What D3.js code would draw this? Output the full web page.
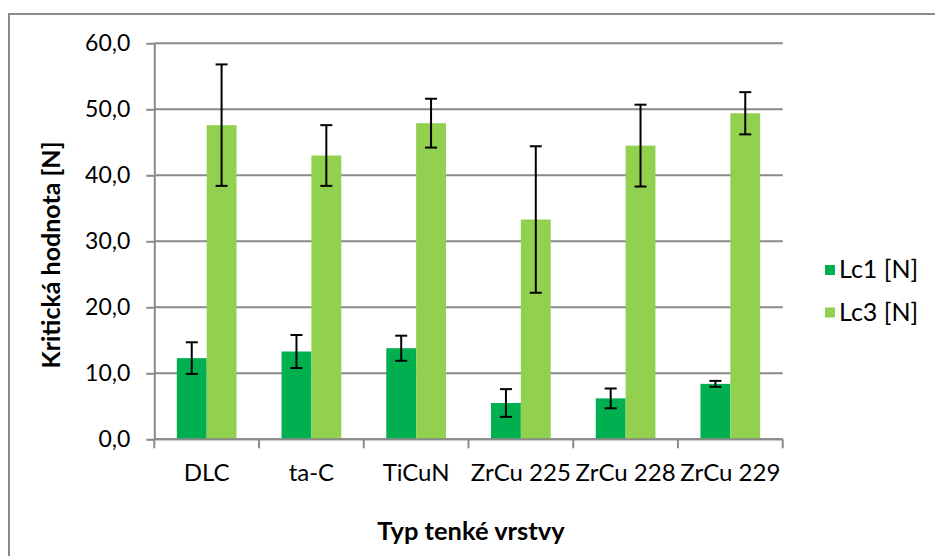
<!DOCTYPE html>
<html>
<head>
<meta charset="utf-8">
<script src="https://cdn.jsdelivr.net/npm/d3@7"></script>
<style>
  html, body { margin: 0; padding: 0; background: #ffffff; }
  svg { display: block; }
  text { font-family: Lato, "Open Sans", "Noto Sans", sans-serif; fill: #000; }
</style>
</head>
<body>
<svg id="chart" width="935" height="556"></svg>
<script>
const categories = ["DLC", "ta-C", "TiCuN", "ZrCu 225", "ZrCu 228", "ZrCu 229"];
const seriesNames = ["Lc1 [N]", "Lc3 [N]"];
const lc1Values = [12.3, 13.3, 13.8, 5.5, 6.2, 8.4];
const lc1Errors = [2.4, 2.5, 1.9, 2.1, 1.5, 0.45];
const lc3Values = [47.6, 43.0, 47.9, 33.3, 44.5, 49.4];
const lc3Errors = [9.2, 4.6, 3.7, 11.1, 6.2, 3.2];
const yTicks = [0, 10, 20, 30, 40, 50, 60];
const colors = ["#00B050", "#92D050"];

const svg = d3.select("#chart");
const W = 935, H = 556;
const plot = { left: 154.3, right: 782.7, top: 43.3, bottom: 439.3 };
const gridColor = "#8a8a8a";

// outer chart border (only left/top visible in the crop)
svg.append("rect")
  .attr("x", 9).attr("y", 14)
  .attr("width", W + 20).attr("height", H + 20)
  .attr("fill", "#fff").attr("stroke", gridColor).attr("stroke-width", 2);

const x0 = d3.scaleBand().domain(categories)
  .range([plot.left, plot.right]).paddingInner(0.43).paddingOuter(0.215);
const x1 = d3.scaleBand().domain(seriesNames).range([0, x0.bandwidth()]);
const y = d3.scaleLinear().domain([0, 60]).range([plot.bottom, plot.top]);

const fmt = v => d3.format(".1f")(v).replace(".", ",");

// gridlines
svg.append("g").selectAll("line").data(yTicks).join("line")
  .attr("x1", plot.left).attr("x2", plot.right)
  .attr("y1", d => y(d)).attr("y2", d => y(d))
  .attr("stroke", gridColor).attr("stroke-width", 2);

// y axis
const yAxis = svg.append("g").attr("transform", `translate(${plot.left},0)`)
  .call(d3.axisLeft(y).tickValues(yTicks).tickFormat(fmt).tickSizeInner(8).tickSizeOuter(0).tickPadding(16));
yAxis.select(".domain").attr("stroke", gridColor).attr("stroke-width", 2);
yAxis.selectAll(".tick line").attr("stroke", gridColor).attr("stroke-width", 2);
yAxis.selectAll(".tick text").attr("font-size", 23).attr("font-family", "Lato, sans-serif").attr("fill", "#000");

// x axis: boundary ticks
const bounds = d3.range(categories.length + 1).map(i => plot.left + i * x0.step());
svg.append("g").selectAll("line").data(bounds).join("line")
  .attr("x1", d => d).attr("x2", d => d)
  .attr("y1", plot.bottom).attr("y2", plot.bottom + 9)
  .attr("stroke", gridColor).attr("stroke-width", 2);

// bars
const data = categories.map((c, i) => ({
  cat: c,
  vals: [
    { s: seriesNames[0], v: lc1Values[i], e: lc1Errors[i], c: colors[0] },
    { s: seriesNames[1], v: lc3Values[i], e: lc3Errors[i], c: colors[1] }
  ]
}));

const groups = svg.append("g").selectAll("g").data(data).join("g")
  .attr("transform", d => `translate(${x0(d.cat)},0)`);

groups.selectAll("rect").data(d => d.vals).join("rect")
  .attr("x", d => x1(d.s)).attr("width", x1.bandwidth())
  .attr("y", d => y(d.v)).attr("height", d => y(0) - y(d.v))
  .attr("fill", d => d.c);

// x axis line (over bars)
svg.append("line")
  .attr("x1", plot.left).attr("x2", plot.right)
  .attr("y1", plot.bottom).attr("y2", plot.bottom)
  .attr("stroke", gridColor).attr("stroke-width", 2);

// error bars
const cap = 6;
const eb = groups.selectAll("g.err").data(d => d.vals).join("g").attr("class", "err");
eb.append("line")
  .attr("x1", d => x1(d.s) + x1.bandwidth() / 2).attr("x2", d => x1(d.s) + x1.bandwidth() / 2)
  .attr("y1", d => y(d.v + d.e)).attr("y2", d => y(d.v - d.e))
  .attr("stroke", "#000").attr("stroke-width", 2);
eb.append("line")
  .attr("x1", d => x1(d.s) + x1.bandwidth() / 2 - cap).attr("x2", d => x1(d.s) + x1.bandwidth() / 2 + cap)
  .attr("y1", d => y(d.v + d.e)).attr("y2", d => y(d.v + d.e))
  .attr("stroke", "#000").attr("stroke-width", 2);
eb.append("line")
  .attr("x1", d => x1(d.s) + x1.bandwidth() / 2 - cap).attr("x2", d => x1(d.s) + x1.bandwidth() / 2 + cap)
  .attr("y1", d => y(d.v - d.e)).attr("y2", d => y(d.v - d.e))
  .attr("stroke", "#000").attr("stroke-width", 2);

// category labels
svg.append("g").selectAll("text").data(categories).join("text")
  .attr("x", d => x0(d) + x0.bandwidth() / 2)
  .attr("y", 481)
  .attr("text-anchor", "middle")
  .attr("font-size", 24)
  .text(d => d);

// axis titles
svg.append("text")
  .attr("x", 471).attr("y", 540)
  .attr("text-anchor", "middle").attr("font-size", 25.5).attr("font-weight", "bold")
  .text("Typ tenké vrstvy");

svg.append("text")
  .attr("transform", "translate(60,255) rotate(-90)")
  .attr("text-anchor", "middle").attr("font-size", 25).attr("font-weight", "bold")
  .text("Kritická hodnota [N]");

// legend
const legend = svg.append("g").selectAll("g").data(seriesNames).join("g")
  .attr("transform", (d, i) => `translate(825,${270 + i * 42.5})`);
legend.append("rect")
  .attr("x", 0).attr("y", -5).attr("width", 10).attr("height", 10)
  .attr("fill", (d, i) => colors[i]);
legend.append("text")
  .attr("x", 14).attr("y", 8).attr("font-size", 25)
  .text(d => d);
</script>
</body>
</html>
